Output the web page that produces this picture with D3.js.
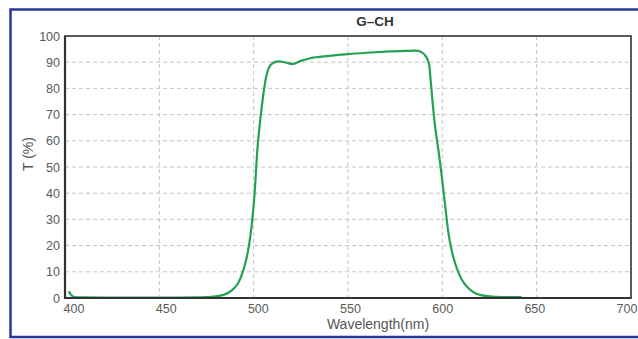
<!DOCTYPE html>
<html>
<head>
<meta charset="utf-8">
<script src="https://cdn.jsdelivr.net/npm/d3@7"></script>
<style>
  body { margin: 0; background: #fff; }
  svg { display: block; font-family: "Liberation Sans", Arial, sans-serif; }
</style>
</head>
<body>
<svg></svg>
<script>
var title = "G\u2013CH";
var xTicks = [400, 450, 500, 550, 600, 650, 700];
var yTicks = [0, 10, 20, 30, 40, 50, 60, 70, 80, 90, 100];

// transmission curve
var wavelength = [402, 403, 404.5, 407, 420, 440, 460, 470, 475, 480, 484, 487, 490, 492, 494, 496, 497.5, 499,
  500.5, 502, 503.5, 505, 506.5, 508, 510, 513, 517, 520.5, 525, 530, 540, 550, 560, 570, 580, 586, 589, 591,
  593, 594, 595, 596, 597, 598, 599, 600, 601, 602, 603, 604, 605.5, 607, 608.5, 611, 614, 617, 620, 625, 632, 642];
var transmission = [2.6, 1.4, 0.5, 0.25, 0.2, 0.2, 0.2, 0.25, 0.35, 0.6, 1.2, 2.2, 4, 6, 9.5, 14.5, 20, 28,
  40, 57, 68, 77, 84, 87.8, 89.6, 90.3, 89.9, 89.3, 90.5, 91.5, 92.4, 93.1, 93.6, 94, 94.3, 94.4, 93.8, 92.5,
  89, 81.5, 73.5, 66.5, 61, 56, 50.5, 44.5, 38.5, 32, 26, 21.5, 16.5, 12.8, 9.8, 6.2, 3.6, 2, 1.2, 0.6, 0.35, 0.3];

var width = 638;
var height = 339;
var plotL = 65, plotR = 631, plotT = 36, plotB = 298;

var svg = d3.select("svg")
  .attr("width", width)
  .attr("height", height);

// blue frame
svg.append("rect")
  .attr("x", 10.5).attr("y", 9.5)
  .attr("width", 640).attr("height", 327.5)
  .attr("fill", "none")
  .attr("stroke", "#27379a")
  .attr("stroke-width", 2.5);

var x = d3.scaleLinear().domain([400, 700]).range([plotL, plotR]);
var y = d3.scaleLinear().domain([0, 100]).range([plotB, plotT]);
// the tick labels sit slightly inside the grid in the original
var xLab = d3.scaleLinear().domain([400, 700]).range([74, 627]);

var grid = svg.append("g")
  .attr("stroke", "#c4c4c4")
  .attr("stroke-width", 1)
  .attr("stroke-dasharray", "4,3");

grid.selectAll(".vg")
  .data(xTicks.slice(1, -1)).enter()
  .append("line")
  .attr("x1", d => x(d)).attr("x2", d => x(d))
  .attr("y1", plotT).attr("y2", plotB);

grid.selectAll(".hg")
  .data(yTicks.slice(1, -1)).enter()
  .append("line")
  .attr("x1", plotL).attr("x2", plotR)
  .attr("y1", d => y(d)).attr("y2", d => y(d));

var line = d3.line()
  .x(function (d, i) { return x(wavelength[i]); })
  .y(function (d) { return y(d); })
  .curve(d3.curveMonotoneX);

svg.append("path")
  .datum(transmission)
  .attr("d", line)
  .attr("fill", "none")
  .attr("stroke", "#23a256")
  .attr("stroke-width", 2.2);

// plot box
svg.append("rect")
  .attr("x", plotL).attr("y", plotT)
  .attr("width", plotR - plotL).attr("height", plotB - plotT)
  .attr("fill", "none")
  .attr("stroke", "#4a4a4a")
  .attr("stroke-width", 1.8);
svg.append("path")
  .attr("d", "M" + plotL + "," + plotT + "V" + plotB + "H" + plotR)
  .attr("fill", "none")
  .attr("stroke", "#333")
  .attr("stroke-width", 2.2);

svg.selectAll(".ylab")
  .data(yTicks).enter()
  .append("text")
  .attr("x", 60)
  .attr("y", d => y(d))
  .attr("dy", "0.36em")
  .attr("text-anchor", "end")
  .attr("font-size", 12.5)
  .attr("fill", "#5a5a5a")
  .text(d => d);

svg.selectAll(".xlab")
  .data(xTicks).enter()
  .append("text")
  .attr("x", d => xLab(d))
  .attr("y", 313)
  .attr("text-anchor", "middle")
  .attr("font-size", 12.5)
  .attr("fill", "#5a5a5a")
  .text(d => d);

svg.append("text")
  .attr("x", 378)
  .attr("y", 329)
  .attr("text-anchor", "middle")
  .attr("font-size", 14)
  .attr("fill", "#555")
  .text("Wavelength(nm)");

svg.append("text")
  .attr("transform", "translate(33,154) rotate(-90)")
  .attr("text-anchor", "middle")
  .attr("font-size", 14)
  .attr("fill", "#555")
  .text("T (%)");

svg.append("text")
  .attr("x", 375)
  .attr("y", 26)
  .attr("text-anchor", "middle")
  .attr("font-size", 13.5)
  .attr("font-weight", "bold")
  .attr("fill", "#333")
  .text(title);
</script>
</body>
</html>
